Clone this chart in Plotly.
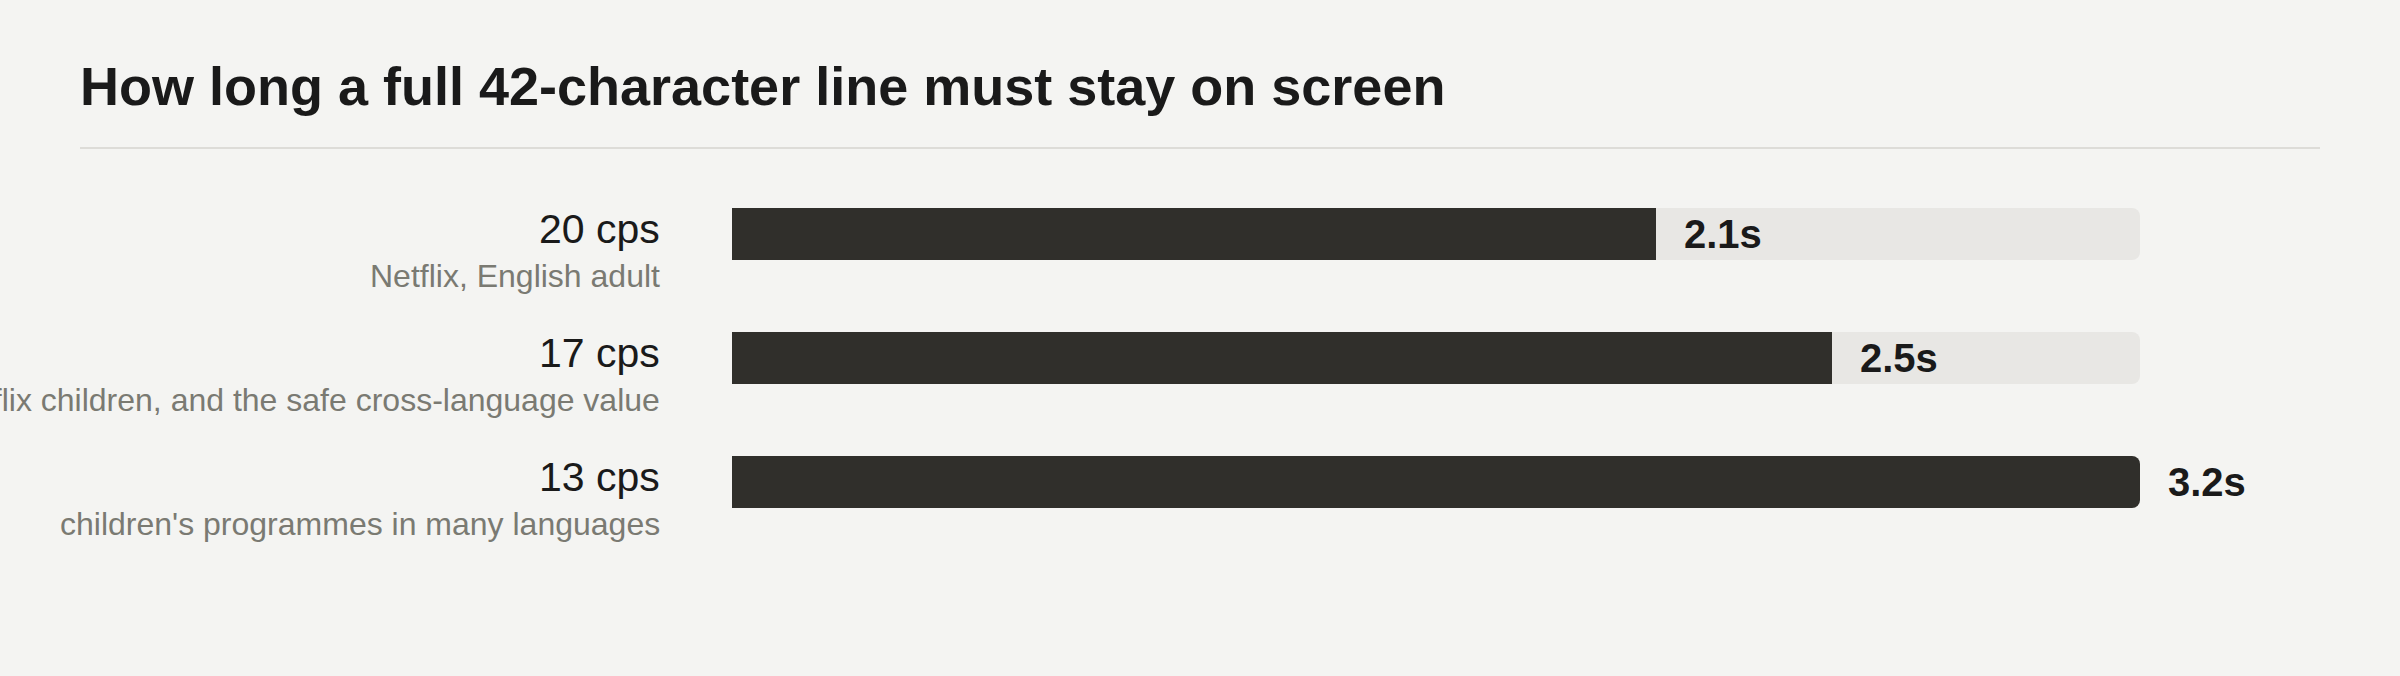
import plotly.graph_objects as go

# ---- data ----
rates = ["20 cps", "17 cps", "13 cps"]
notes = ["Netflix, English adult",
         "Netflix children, and the safe cross-language value",
         "children's programmes in many languages"]
seconds = [2.1, 2.5, 3.2]
value_labels = ["2.1s", "2.5s", "3.2s"]
title_text = "How long a full 42-character line must stay on screen"

W, H = 2400, 676
BG = "#f4f4f2"
DARK = "#302f2b"
TRACK = "#e8e7e4"
INK = "#1a1a1a"
GREY = "#7a7a72"
FONT = "Liberation Sans, Arial, sans-serif"

track_max = max(seconds)

fig = go.Figure()
fig.add_trace(go.Bar(
    y=rates, x=[track_max] * len(rates), orientation="h",
    marker=dict(color=TRACK, line=dict(width=0)),
    width=0.42, hoverinfo="skip", showlegend=False,
))
fig.add_trace(go.Bar(
    y=rates, x=seconds, orientation="h",
    marker=dict(color=DARK, line=dict(width=0)),
    width=0.42, hoverinfo="skip", showlegend=False,
))

annotations = []
for r, n, v, lab in zip(rates, notes, seconds, value_labels):
    annotations.append(dict(
        x=0, xref="paper", y=r, yref="y", text=r, showarrow=False,
        xanchor="right", yanchor="middle", xshift=-70, yshift=5,
        font=dict(family=FONT, size=41, color=INK),
    ))
    annotations.append(dict(
        x=0, xref="paper", y=r, yref="y", text=n, showarrow=False,
        xanchor="right", yanchor="middle", xshift=-70, yshift=-42,
        font=dict(family=FONT, size=32, color=GREY),
    ))
    annotations.append(dict(
        x=v, xref="x", y=r, yref="y", text="<b>%s</b>" % lab, showarrow=False,
        xanchor="left", yanchor="middle", xshift=26, yshift=0,
        font=dict(family=FONT, size=40, color=INK),
    ))

fig.update_layout(
    width=W, height=H,
    paper_bgcolor=BG, plot_bgcolor=BG,
    margin=dict(l=732, r=260, t=172, b=132),
    barmode="overlay", barcornerradius=8,
    title=dict(
        text="<b>%s</b>" % title_text,
        x=80 / W, xref="container", xanchor="left",
        y=1 - 86 / H, yref="container", yanchor="middle",
        font=dict(family=FONT, size=54, color=INK),
    ),
    xaxis=dict(range=[0, track_max], visible=False, fixedrange=True),
    yaxis=dict(categoryorder="array", categoryarray=rates,
               autorange="reversed", visible=False, fixedrange=True),
    annotations=annotations,
    shapes=[dict(
        type="line", xref="paper", yref="paper",
        x0=(80 - 732) / 1408, x1=(2320 - 732) / 1408,
        y0=(544 - 148) / 372, y1=(544 - 148) / 372,
        line=dict(color="#dddcd8", width=2),
    )],
    showlegend=False,
)

fig.write_html(
    "out.html",
    config={"displayModeBar": False},
    post_script="document.body.style.margin='0';document.body.style.background='%s';" % BG,
)
